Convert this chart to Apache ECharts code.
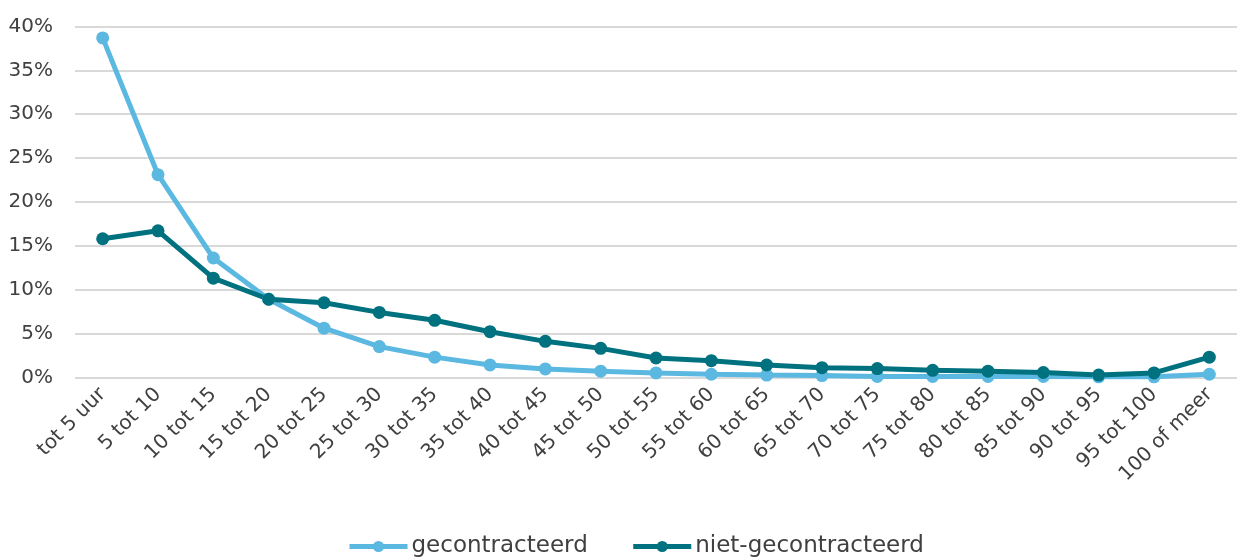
<!DOCTYPE html>
<html><head><meta charset="utf-8">
<script src="https://cdn.jsdelivr.net/npm/echarts@6/dist/echarts.min.js"></script>
<style>html,body{margin:0;padding:0;background:#fff}#c{width:1237px;height:560px}</style>
</head><body><div id="c"></div>
<script>
const categories = ["tot 5 uur","5 tot 10","10 tot 15","15 tot 20","20 tot 25","25 tot 30","30 tot 35","35 tot 40","40 tot 45","45 tot 50","50 tot 55","55 tot 60","60 tot 65","65 tot 70","70 tot 75","75 tot 80","80 tot 85","85 tot 90","90 tot 95","95 tot 100","100 of meer"];
const gecontracteerd = [38.7,23.1,13.6,8.9,5.6,3.5,2.3,1.4,0.95,0.7,0.5,0.35,0.25,0.2,0.1,0.1,0.1,0.1,0.05,0.05,0.35];
const nietGecontracteerd = [15.8,16.7,11.3,8.9,8.5,7.4,6.5,5.2,4.1,3.3,2.2,1.9,1.4,1.1,1.0,0.8,0.7,0.55,0.25,0.5,2.3];
const seriesNames = ["gecontracteerd","niet-gecontracteerd"];
const colors = ["#5BB8E1","#00717F"];
const font = "'DejaVu Sans', sans-serif";
const chart = echarts.init(document.getElementById('c'));
chart.setOption({
  animation:false,
  grid:{left:75,right:-11,top:26.5,bottom:182.7},
  legend:{bottom:-3,left:342,itemWidth:58,itemHeight:14,itemGap:43,
    lineStyle:{width:5},
    textStyle:{fontFamily:font,fontSize:23,color:'#404040',padding:[0,0,0,-1]},
    data:seriesNames},
  xAxis:{type:'category',data:categories,boundaryGap:true,
    axisLine:{show:false},axisTick:{show:false},
    axisLabel:{rotate:45,margin:14,fontFamily:font,fontSize:20,color:'#404040',interval:0}},
  yAxis:{type:'value',min:0,max:40,interval:5,
    axisLabel:{formatter:'{value}%',margin:22,fontFamily:font,fontSize:20,color:'#404040'},
    splitLine:{lineStyle:{color:'#D9D9D9',width:2}}},
  series:[
    {name:seriesNames[0],type:'line',data:gecontracteerd,color:colors[0],symbol:'circle',symbolSize:13,lineStyle:{width:5}},
    {name:seriesNames[1],type:'line',data:nietGecontracteerd,color:colors[1],symbol:'circle',symbolSize:13,lineStyle:{width:5}}
  ]
});
</script></body></html>
